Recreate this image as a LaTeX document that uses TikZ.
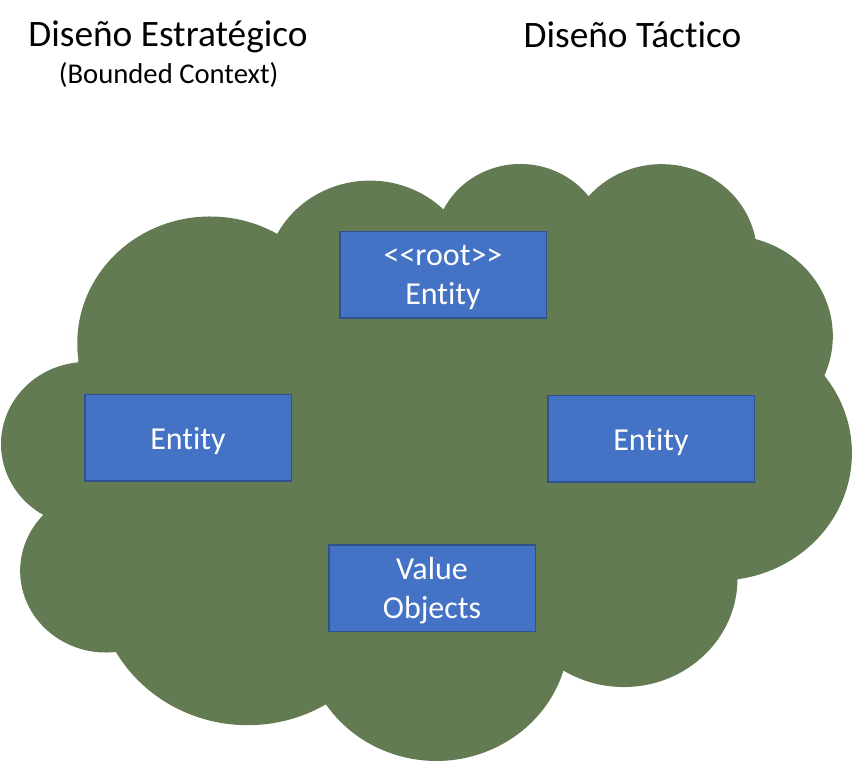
\documentclass[tikz,border=0pt]{standalone}
\usepackage{fontspec}
\setmainfont{Carlito}[Ligatures={TeXOff,CommonOff}]
\definecolor{cloudgreen}{RGB}{99,123,82}
\definecolor{boxblue}{RGB}{68,114,196}
\definecolor{boxedge}{RGB}{47,82,143}

\begin{document}
\begin{tikzpicture}[x=0.75pt, y=-0.75pt,
	block/.style={draw=boxedge, line width=1.25pt, fill=boxblue, text=white,
		minimum width=155pt, minimum height=65pt, inner sep=0pt,
		align=center, text depth=0pt, font=\fontsize{24}{29.3}\selectfont},
	title/.style={anchor=base, font=\fontsize{28}{34}\selectfont}]
		
		\useasboundingbox (0,0) rectangle (853,762);
		
		% Draw Shape
		\begin{scope}[shift={(1.32pt,-121.53pt)}, x=1.4753pt, y=-1.036pt]
		\fill[cloudgreen] (39.00,143.70)
			arc[start angle=-187.75, end angle=-59.64, x radius=67.53, y radius=91.90]
			arc[start angle=-152.03, end angle=-45.43, x radius=53.33, y radius=72.67]
			arc[start angle=-153.49, end angle=-37.32, x radius=43.65, y radius=59.45]
			arc[start angle=-139.70, end angle=-10.21, x radius=48.57, y radius=65.95]
			arc[start angle=-74.77, end angle=23.21, x radius=53.33, y radius=72.73]
			arc[start angle=-37.52, end angle=81.86, x radius=67.75, y radius=92.20]
			arc[start angle=0.46, end angle=121.98, x radius=57.85, y radius=78.67]
			arc[start angle=16.85, end angle=146.26, x radius=67.52, y radius=92.15]
			arc[start angle=58.98, end angle=150.19, x radius=77.20, y radius=105.43]
			arc[start angle=-276.69, end angle=-136.91, x radius=43.60, y radius=59.18]
			arc[start angle=-239.64, end angle=-95.89, x radius=43.45, y radius=59.45]
			-- cycle;
		\end{scope}
		
		% Boxes
		\node[block] (root) at (443,275) {<<root>>\\Entity};
		\node[block] (entityleft) at (188,438) {Entity};
		\node[block] (entityright) at (651,439) {Entity};
		\node[block] (valueobj) at (432,588) {Value\\Objects};
		
		% Labels
		\node[title] (estrategico) at (168,46.7) {Diseño Estratégico};
		\node[anchor=base, font=\fontsize{21.5}{26}\selectfont] (contexto) at (168.7,83.5) {(Bounded Context)};
		\node[title] (tactico) at (632.5,47.3) {Diseño Táctico};
		
\end{tikzpicture}
\end{document}
